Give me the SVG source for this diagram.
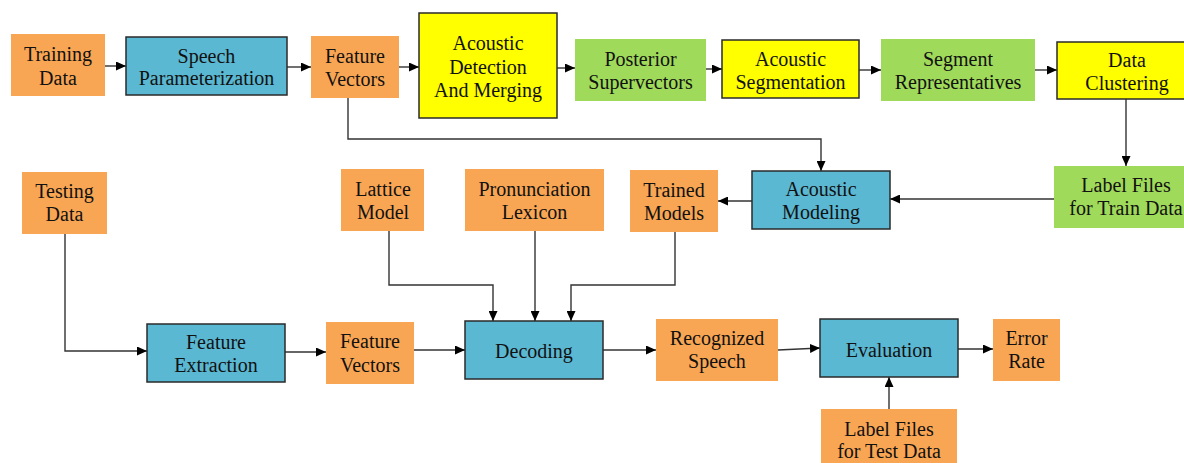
<svg xmlns="http://www.w3.org/2000/svg" width="1184" height="463" viewBox="0 0 1184 463">
  <defs>
    <marker id="arrow" markerUnits="userSpaceOnUse" markerWidth="11" markerHeight="9" refX="10" refY="4.5" orient="auto">
      <path d="M0,0 L10,4.5 L0,9 z" fill="#000"/>
    </marker>
    <style>
      .data { fill: #F9A654; }
      .proc { fill: #5BB8D3; stroke: #2a2a2a; stroke-width: 1.5; }
      .step { fill: #FFFF00; stroke: #2a2a2a; stroke-width: 1.5; }
      .feat { fill: #A0DA5A; }
      text { font-family: "Liberation Serif", "Times New Roman", serif; font-size: 20px; fill: #111; text-anchor: middle; }
      .conn path { fill: none; stroke: #333; stroke-width: 1.4; marker-end: url(#arrow); }
    </style>
  </defs>
  <rect width="1184" height="463" fill="#fff"/>

  <!-- connectors -->
  <g id="connectors" class="conn">
    <path d="M105,66 H126"/>
    <path d="M287,67 H311"/>
    <path d="M399,67 H419"/>
    <path d="M557,68 H575"/>
    <path d="M706,69 H722"/>
    <path d="M859,70 H881"/>
    <path d="M1035,70 H1057"/>
    <path d="M1126,99 V166"/>
    <path d="M1054,199 H890"/>
    <path d="M348,98 V139 H821 V171"/>
    <path d="M752,201 H718"/>
    <path d="M389,231 V285 H493 V321"/>
    <path d="M535,231 V321"/>
    <path d="M675,232 V285 H571 V321"/>
    <path d="M65,234 V351 H147"/>
    <path d="M285,352 H326"/>
    <path d="M414,350 H465"/>
    <path d="M603,350 H656"/>
    <path d="M778,350 L820,348"/>
    <path d="M958,349 H993"/>
    <path d="M889,409 V377"/>
  </g>

  <!-- training pipeline -->
  <g id="training-data">
    <rect class="data" x="11" y="34" width="94" height="62"/>
    <text x="58" y="61">Training</text>
    <text x="58" y="85">Data</text>
  </g>
  <g id="speech-parameterization">
    <rect class="proc" x="126" y="37" width="161" height="58"/>
    <text x="206.5" y="63">Speech</text>
    <text x="206.5" y="85">Parameterization</text>
  </g>
  <g id="feature-vectors-train">
    <rect class="data" x="311" y="36" width="88" height="62"/>
    <text x="355" y="63">Feature</text>
    <text x="355" y="86">Vectors</text>
  </g>
  <g id="acoustic-detection">
    <rect class="step" x="419" y="13" width="138" height="105"/>
    <text x="488" y="50">Acoustic</text>
    <text x="488" y="74">Detection</text>
    <text x="488" y="97">And Merging</text>
  </g>
  <g id="posterior-supervectors">
    <rect class="feat" x="575" y="39" width="131" height="62"/>
    <text x="640.5" y="66">Posterior</text>
    <text x="640.5" y="89">Supervectors</text>
  </g>
  <g id="acoustic-segmentation">
    <rect class="step" x="722" y="40" width="137" height="58"/>
    <text x="790.5" y="66">Acoustic</text>
    <text x="790.5" y="89">Segmentation</text>
  </g>
  <g id="segment-representatives">
    <rect class="feat" x="881" y="39" width="154" height="62"/>
    <text x="958" y="66">Segment</text>
    <text x="958" y="89">Representatives</text>
  </g>
  <g id="data-clustering">
    <rect class="step" x="1057" y="42" width="140" height="57"/>
    <text x="1127" y="67">Data</text>
    <text x="1127" y="90">Clustering</text>
  </g>
  <g id="label-files-train">
    <rect class="feat" x="1054" y="166" width="144" height="62"/>
    <text x="1126" y="192">Label Files</text>
    <text x="1126" y="215">for Train Data</text>
  </g>
  <g id="acoustic-modeling">
    <rect class="proc" x="752" y="171" width="138" height="58"/>
    <text x="821" y="196">Acoustic</text>
    <text x="821" y="219">Modeling</text>
  </g>
  <g id="trained-models">
    <rect class="data" x="630" y="170" width="88" height="62"/>
    <text x="674" y="197">Trained</text>
    <text x="674" y="220">Models</text>
  </g>
  <g id="pronunciation-lexicon">
    <rect class="data" x="465" y="169" width="139" height="62"/>
    <text x="534.5" y="196">Pronunciation</text>
    <text x="534.5" y="219">Lexicon</text>
  </g>
  <g id="lattice-model">
    <rect class="data" x="341" y="169" width="83" height="62"/>
    <text x="383" y="196">Lattice</text>
    <text x="383" y="219">Model</text>
  </g>

  <!-- testing pipeline -->
  <g id="testing-data">
    <rect class="data" x="22" y="172" width="85" height="62"/>
    <text x="64.5" y="198">Testing</text>
    <text x="64.5" y="221">Data</text>
  </g>
  <g id="feature-extraction">
    <rect class="proc" x="147" y="324" width="138" height="58"/>
    <text x="216" y="349">Feature</text>
    <text x="216" y="372">Extraction</text>
  </g>
  <g id="feature-vectors-test">
    <rect class="data" x="326" y="322" width="88" height="62"/>
    <text x="370" y="348">Feature</text>
    <text x="370" y="372">Vectors</text>
  </g>
  <g id="decoding">
    <rect class="proc" x="465" y="321" width="138" height="58"/>
    <text x="534" y="358">Decoding</text>
  </g>
  <g id="recognized-speech">
    <rect class="data" x="656" y="319" width="122" height="62"/>
    <text x="717" y="345">Recognized</text>
    <text x="717" y="368">Speech</text>
  </g>
  <g id="evaluation">
    <rect class="proc" x="820" y="319" width="138" height="58"/>
    <text x="889" y="357">Evaluation</text>
  </g>
  <g id="error-rate">
    <rect class="data" x="993" y="319" width="67" height="62"/>
    <text x="1026.5" y="345">Error</text>
    <text x="1026.5" y="368">Rate</text>
  </g>
  <g id="label-files-test">
    <rect class="data" x="821" y="409" width="136" height="60"/>
    <text x="889" y="436">Label Files</text>
    <text x="889" y="458">for Test Data</text>
  </g>
</svg>
